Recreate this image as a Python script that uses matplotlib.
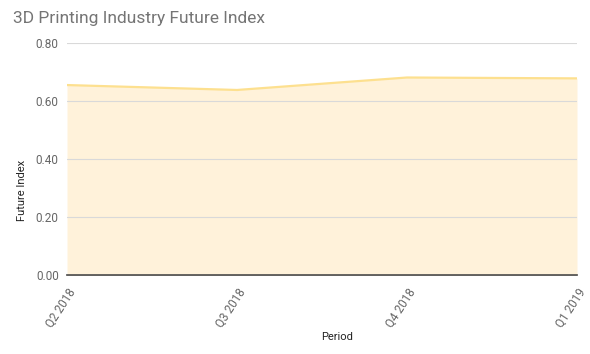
import matplotlib
matplotlib.use('agg')
import matplotlib.pyplot as plt

periods = ["Q2 2018", "Q3 2018", "Q4 2018", "Q1 2019"]
future_index = [0.655, 0.638, 0.681, 0.678]

plt.rcParams['font.family'] = ['Roboto', 'DejaVu Sans']

fig = plt.figure(figsize=(5.9, 3.54), dpi=100)
ax = fig.add_axes([67/590, 79/354, 510/590, 232/354])

x = list(range(len(periods)))
ax.fill_between(x, 0, future_index, color='#fff2da', lw=0)
ax.plot(x, future_index, color='#fde08f', lw=1.6)

ax.set_xlim(0, len(periods) - 1)
ax.set_ylim(0, 0.8)
ax.set_yticks([0, 0.2, 0.4, 0.6, 0.8])
ax.set_yticklabels(["%.2f" % v for v in [0, 0.2, 0.4, 0.6, 0.8]])
ax.set_xticks(x)
ax.set_xticklabels(periods, rotation=57, ha='right', va='top', rotation_mode='anchor',
                   fontsize=7.5)

ax.grid(axis='y', color='#d9d9d9', lw=0.8)
ax.set_axisbelow(False)
for s in ['top', 'right', 'left']:
    ax.spines[s].set_visible(False)
ax.spines['bottom'].set_color('#444444')
ax.spines['bottom'].set_linewidth(1.2)
ax.tick_params(length=0, colors='#666666', labelsize=8.5, pad=6)
ax.tick_params(axis='x', pad=8)

fig.text(22/590, 1 - 190/354, "Future Index", fontsize=8, color='#222222',
         rotation=90, ha='center', va='center')
fig.text(337/590, 1 - 337/354, "Period", fontsize=8, color='#222222',
         ha='center', va='center')
fig.text(13/590, 1 - 18/354, "3D Printing Industry Future Index", fontsize=12.5,
         color='#757575', va='center', ha='left')

plt.savefig("out.png")
